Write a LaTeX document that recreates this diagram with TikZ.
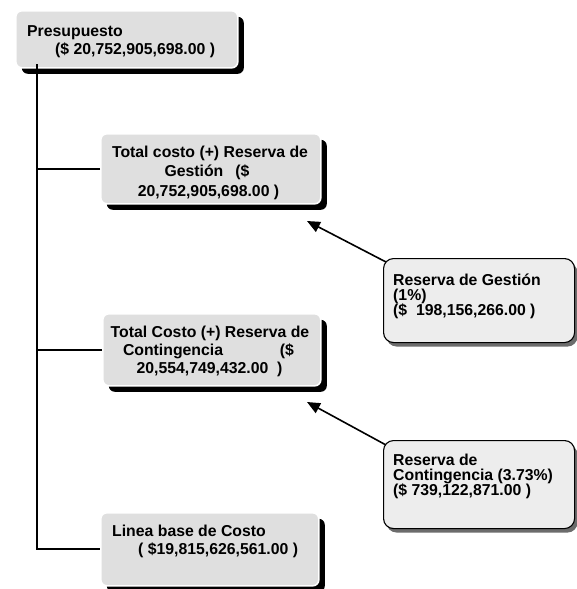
\documentclass[tikz,border=0pt]{standalone}
\usepackage{fontspec}
\setmainfont{Liberation Sans}
\usetikzlibrary{shadows,arrows.meta}
\begin{document}
\begin{tikzpicture}[x=1pt,y=-1pt,
  mainbox/.style={draw=white,line width=1.6pt,fill=gray!25,rounded corners=6pt,anchor=north west,inner sep=0pt,
    drop shadow={shadow xshift=6pt,shadow yshift=-6pt,fill=black,opacity=1}},
  resbox/.style={draw=black,line width=1.1pt,fill=gray!14,rounded corners=10pt,anchor=north west,inner sep=0pt,
    drop shadow={shadow xshift=3pt,shadow yshift=-4pt,fill=gray!85!black,opacity=1}},
  txt/.style={font=\bfseries\fontsize{15.8}{18}\selectfont,inner sep=0pt,anchor=base west},
  ctxt/.style={font=\bfseries\fontsize{15.8}{18}\selectfont,inner sep=0pt,anchor=base},
  tree/.style={line width=1.7pt,black},
  arr/.style={line width=1.6pt,black,-{Triangle[length=13pt,width=11pt]}}
]
\useasboundingbox (0,0) rectangle (576,589);
\coordinate (trunk) at (37,64);
% arrows first so boxes cover their ends
\coordinate (tipA) at (307,221);
\coordinate (tipB) at (307,402);
\coordinate (startA) at (386,262);
\coordinate (startB) at (386,445);
\draw[arr] (startA) -- (tipA);
\draw[arr] (startB) -- (tipB);
% boxes
\node[mainbox,minimum width=222pt,minimum height=57pt] (b1) at (15,10) {};
\node[mainbox,minimum width=220pt,minimum height=70pt] (b2) at (100,133) {};
\node[resbox,minimum width=191pt,minimum height=84pt] (r1) at (383,258) {};
\node[mainbox,minimum width=218pt,minimum height=72pt] (b4) at (102,313) {};
\node[resbox,minimum width=191pt,minimum height=88pt] (r2) at (383,440) {};
\node[mainbox,minimum width=218pt,minimum height=73pt] (b6) at (100,512) {};
% tree
\draw[tree] (trunk) |- (b6.west);
\draw[tree] (b2.west) -- (b2.west -| trunk);
\draw[tree] (b4.west) -- (b4.west -| trunk);
% texts
\node[txt] (t1a) at (27,36) {Presupuesto};
\node[txt] (t1b) at (55,54) {(\$ 20,752,905,698.00 )};
\node[ctxt] (t2a) at (210,157) {Total costo (+) Reserva de};
\node[ctxt] (t2b) at (207,176.5) {\makebox[85pt]{Gesti\'on\hfill(\$}};
\node[ctxt] (t2c) at (208.5,196) {20,752,905,698.00 )};
\node[txt] (t3a) at (393,285) {Reserva de Gesti\'on};
\node[txt] (t3b) at (393,300) {(1\%)};
\node[txt] (t3c) at (393,315) {(\$\ \ 198,156,266.00 )};
\node[ctxt] (t4a) at (210,337) {Total Costo (+) Reserva de};
\node[ctxt] (t4b) at (208.5,355) {\makebox[171pt]{Contingencia\hfill(\$}};
\node[ctxt] (t4c) at (209.5,373) {20,554,749,432.00\ \ )};
\node[txt] (t5a) at (393,465) {Reserva de};
\node[txt] (t5b) at (393,480) {Contingencia (3.73\%)};
\node[txt] (t5c) at (393,495) {(\$ 739,122,871.00 )};
\node[txt] (t6a) at (112,536) {Linea base de Costo};
\node[txt] (t6b) at (138,554) {( \$19,815,626,561.00 )};
\end{tikzpicture}
\end{document}
